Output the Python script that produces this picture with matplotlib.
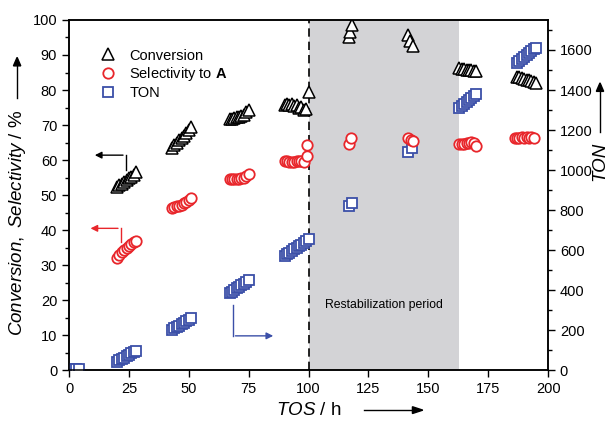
import matplotlib.pyplot as plt
import numpy as np

plt.rcParams['font.family'] = ['Liberation Sans', 'DejaVu Sans']
plt.rcParams['mathtext.fontset'] = 'custom'
plt.rcParams['mathtext.it'] = 'Liberation Sans:italic'
plt.rcParams['mathtext.rm'] = 'Liberation Sans'
plt.rcParams['mathtext.bf'] = 'Liberation Sans:bold'

tos_conv = [20, 21, 22, 23, 24, 25, 26, 27, 28,
            43, 44, 45, 46, 47, 48, 49, 50, 51,
            67, 68, 69, 70, 71, 72, 73, 74, 75,
            90, 91, 92, 93, 94, 95, 96, 97, 98, 99, 100,
            117, 117.5, 118,
            141.5, 142.5, 143.5,
            163, 164, 165, 166, 167, 168, 169, 170,
            187, 188, 189, 190, 191, 192, 193, 194, 195]
conversion = [52.3, 52.8, 53.3, 53.8, 54.3, 54.8, 55.3, 55.8, 56.5,
              63.5, 64.2, 64.9, 65.6, 66.3, 67.0, 67.8, 68.6, 69.5,
              71.6, 71.8, 72.0, 72.2, 72.4, 72.7, 73.0, 73.6, 74.3,
              75.6, 76.0, 75.7, 76.1, 75.4, 75.8, 74.8, 75.2, 74.2, 74.5, 79.5,
              95.1, 96.7, 98.6,
              95.7, 94.1, 92.6,
              86.2, 86.0, 85.9, 85.8, 85.7, 85.6, 85.5, 85.5,
              83.8, 83.6, 83.4, 83.2, 83.0, 82.8, 82.5, 82.3, 82.0]

tos_sel = [20, 21, 22, 23, 24, 25, 26, 27, 28,
           43, 44, 45, 46, 47, 48, 49, 50, 51,
           67, 68, 69, 70, 71, 72, 73, 74, 75,
           90, 91, 92, 93, 94, 95, 96, 97, 98, 99.5, 99.2,
           117, 117.8,
           141.5, 142.8, 143.5,
           163, 164, 165, 166, 167, 168, 169, 170,
           186, 187, 188, 189, 190, 191, 192, 193, 194]
selectivity = [32.0, 33.0, 33.8, 34.4, 35.0, 35.5, 36.0, 36.5, 37.0,
               46.4, 46.6, 46.8, 47.0, 47.3, 47.7, 48.1, 48.6, 49.2,
               54.5, 54.5, 54.6, 54.6, 54.7, 54.8, 55.0, 55.4, 55.9,
               59.8, 59.6, 59.5, 59.4, 59.5, 59.6, 59.7, 59.8, 59.5, 61.1, 64.2,
               64.6, 66.2,
               66.4, 65.6, 65.3,
               64.6, 64.6, 64.7, 64.8, 65.0, 65.2, 64.8, 64.1,
               66.2, 66.4, 66.3, 66.5, 66.3, 66.6, 66.4, 66.5, 66.2]

tos_ton = [1, 2, 3, 4,
           20, 21, 22, 23, 24, 25, 26, 27, 28,
           43, 44, 45, 46, 47, 48, 49, 50, 51,
           67, 68, 69, 70, 71, 72, 73, 74, 75,
           90, 91, 92, 93, 94, 95, 96, 97, 98, 99, 100,
           117, 118,
           141.7, 143,
           163, 164, 165, 166, 167, 168, 169, 170,
           187, 188, 189, 190, 191, 192, 193, 194, 195]
ton = [2, 4, 6, 8,
       42, 49, 56, 63, 70, 77, 84, 91, 98,
       202, 209, 216, 223, 230, 237, 244, 251, 260,
       385, 393, 401, 409, 417, 425, 433, 441, 450,
       572, 580, 588, 596, 604, 612, 620, 628, 636, 644, 655,
       820, 833,
       1092, 1108,
       1310, 1320, 1330, 1340, 1350, 1360, 1370, 1382,
       1535, 1545, 1555, 1565, 1575, 1585, 1595, 1603, 1610]

red = '#e8262b'
blue = '#3b4fa8'

fig = plt.figure(figsize=(6.11, 4.25), dpi=100)
ax = fig.add_axes([0.113, 0.129, 0.784, 0.824])
ax2 = ax.twinx()
ax.set_zorder(ax2.get_zorder() + 1)
ax.patch.set_visible(False)

# Restabilisierungsphase (auf ax2, damit die TON-Punkte darueber liegen)
ax2.axvspan(100, 163, color='#d3d3d6', zorder=0, lw=0)
ax2.axvline(100, color='k', ls=(0, (5, 3)), lw=1.2, zorder=1)
ax.text(131.5, 18.6, 'Restabilization period', ha='center', va='center', fontsize=8.8)

ax.plot(tos_conv, conversion, ls='none', marker='^', ms=8.5, mfc='white', mec='black', mew=1.1,
        label='Conversion', zorder=3)
ax.plot(tos_sel, selectivity, ls='none', marker='o', ms=7.5, mfc='white', mec=red, mew=1.3,
        label=r'Selectivity to $\mathbf{A}$', zorder=3)
ax2.plot(tos_ton, ton, ls='none', marker='s', ms=6.5, mfc='white', mec=blue, mew=1.3,
         label='TON', zorder=3)

ax.set_xlim(0, 200)
ax.set_ylim(0, 100)
ax2.set_ylim(0, 1750)
ax.set_xticks(np.arange(0, 201, 25))
ax.set_yticks(np.arange(0, 101, 10))
ax.set_yticks(np.arange(0, 101, 5), minor=True)
ax2.set_yticks(np.arange(0, 1601, 200))
ax2.set_yticks(np.arange(0, 1701, 100), minor=True)

for a in (ax, ax2):
    a.tick_params(which='major', direction='out', length=5, width=1, labelsize=10.5)
    a.tick_params(which='minor', direction='out', length=3, width=1)
    for s in a.spines.values():
        s.set_linewidth(1.1)

# Legende
handles = ax.get_lines()[0:2] + ax2.get_lines()[-1:]
ax.legend(handles=handles, labels=['Conversion', r'Selectivity to $\mathbf{A}$', 'TON'],
          loc='upper left', bbox_to_anchor=(0.05, 0.935), frameon=False, fontsize=10.5,
          handlelength=1.2, handletextpad=0.9, labelspacing=0.2, borderaxespad=0)

# Pfeile, die die Achsen zuordnen
ax.annotate('', xy=(9.6, 61.4), xytext=(23.7, 61.4),
            arrowprops=dict(arrowstyle='-|>', color='black', lw=1, mutation_scale=10))
ax.plot([23.7, 23.7], [57.1, 61.4], color='black', lw=1)
ax.annotate('', xy=(7.8, 40.5), xytext=(21.6, 40.5),
            arrowprops=dict(arrowstyle='-|>', color=red, lw=1, mutation_scale=10))
ax.plot([21.6, 21.6], [36.7, 40.5], color=red, lw=1)
ax.annotate('', xy=(86.4, 9.8), xytext=(68.3, 9.8),
            arrowprops=dict(arrowstyle='-|>', color=blue, lw=1, mutation_scale=10))
ax.plot([68.3, 68.3], [9.8, 18.6], color=blue, lw=1)

# Achsenbeschriftungen mit Pfeilen
fig.text(0.028, 0.475, r'$\mathit{Conversion,\ Selectivity}$ / %', rotation=90,
         ha='center', va='center', fontsize=13.5)
fig.add_artist(plt.Line2D([0.028, 0.028], [0.77, 0.86], color='black', lw=1))
fig.patches.append(plt.Polygon([[0.022, 0.845], [0.034, 0.845], [0.028, 0.865]],
                               closed=True, color='black', transform=fig.transFigure, figure=fig))

fig.text(0.982, 0.62, 'TON', rotation=90, style='italic', ha='center', va='center', fontsize=13.5)
fig.add_artist(plt.Line2D([0.982, 0.982], [0.69, 0.80], color='black', lw=1))
fig.patches.append(plt.Polygon([[0.976, 0.785], [0.988, 0.785], [0.982, 0.805]],
                               closed=True, color='black', transform=fig.transFigure, figure=fig))

fig.text(0.505, 0.035, r'$\mathit{TOS}$ / h', ha='center', va='center', fontsize=13.5)
fig.add_artist(plt.Line2D([0.595, 0.685], [0.035, 0.035], color='black', lw=1))
fig.patches.append(plt.Polygon([[0.675, 0.027], [0.675, 0.043], [0.692, 0.035]],
                               closed=True, color='black', transform=fig.transFigure, figure=fig))

fig.savefig('out.png', dpi=100)
